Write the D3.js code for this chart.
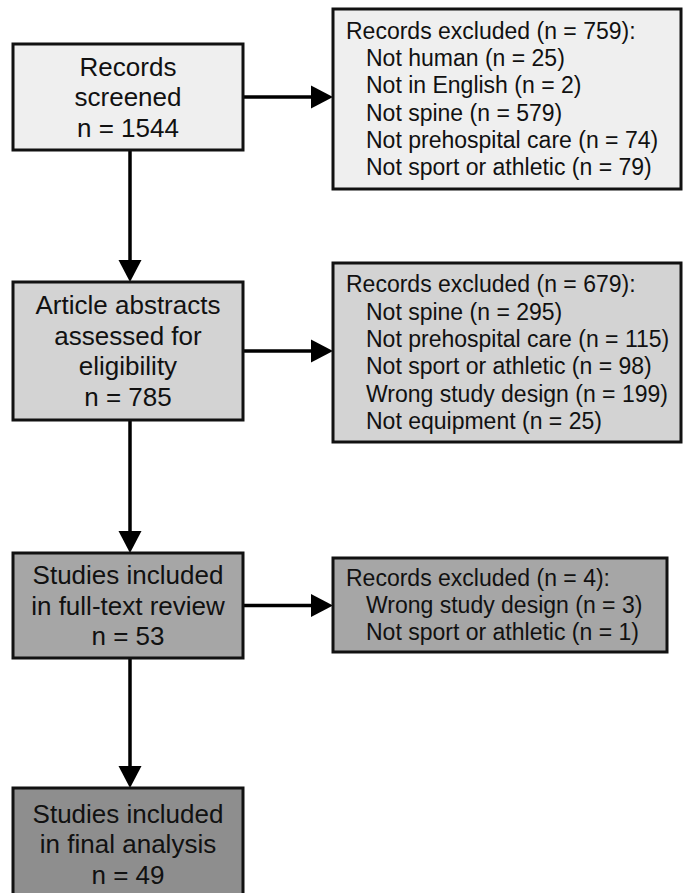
<!DOCTYPE html>
<html>
<head>
<meta charset="utf-8">
<script src="https://cdn.jsdelivr.net/npm/d3@7"></script>
<style>
  body { margin: 0; background: #fff; }
  text { font-family: "Liberation Sans", Arial, sans-serif; fill: #111; }
</style>
</head>
<body>
<div id="chart"></div>
<script>
// flow stages (left column)
var stageLabels = [
  ["Records", "screened"],
  ["Article abstracts", "assessed for", "eligibility"],
  ["Studies included", "in full-text review"],
  ["Studies included", "in final analysis"]
];
var stageCounts = [1544, 785, 53, 49];

// exclusions (right column)
var excludedTotals = [759, 679, 4];
var excludedReasons = [
  ["Not human", "Not in English", "Not spine", "Not prehospital care", "Not sport or athletic"],
  ["Not spine", "Not prehospital care", "Not sport or athletic", "Wrong study design", "Not equipment"],
  ["Wrong study design", "Not sport or athletic"]
];
var excludedCounts = [
  [25, 2, 579, 74, 79],
  [295, 115, 98, 199, 25],
  [3, 1]
];

var svgWidth = 684;
var svgHeight = 893;

// layout of the boxes
var leftBoxes = [
  { x: 13, y: 44, w: 230, h: 106 },
  { x: 13, y: 282, w: 230, h: 138 },
  { x: 13, y: 553, w: 230, h: 105 },
  { x: 13, y: 788, w: 230, h: 114 }
];
var rightBoxes = [
  { x: 333, y: 9, w: 348, h: 180 },
  { x: 333, y: 263, w: 348, h: 179 },
  { x: 333, y: 558, w: 334, h: 94 }
];
var stageFill = ["#efefef", "#d3d3d3", "#a6a6a6", "#8e8e8e"];

var svg = d3.select("#chart")
  .append("svg")
  .attr("width", svgWidth)
  .attr("height", svgHeight);

var headW = 23, headL = 22;

function arrowHead(tipX, tipY, dir) {
  // dir: "down" or "right"
  if (dir === "down") {
    return [[tipX - headW / 2, tipY - headL], [tipX + headW / 2, tipY - headL], [tipX, tipY]];
  }
  return [[tipX - headL, tipY - headW / 2], [tipX - headL, tipY + headW / 2], [tipX, tipY]];
}

var arrows = svg.append("g");

// vertical arrows between stages
leftBoxes.slice(1).forEach(function (b, i) {
  var from = leftBoxes[i];
  var cx = from.x + from.w / 2 + 2;
  arrows.append("line")
    .attr("x1", cx).attr("y1", from.y + from.h)
    .attr("x2", cx).attr("y2", b.y - headL + 2)
    .attr("stroke", "#000").attr("stroke-width", 3.5);
  arrows.append("polygon")
    .attr("points", arrowHead(cx, b.y, "down").join(" "))
    .attr("fill", "#000");
});

// horizontal arrows to exclusions
rightBoxes.forEach(function (b, i) {
  var from = leftBoxes[i];
  var cy = from.y + from.h / 2;
  arrows.append("line")
    .attr("x1", from.x + from.w).attr("y1", cy)
    .attr("x2", b.x - headL + 2).attr("y2", cy)
    .attr("stroke", "#000").attr("stroke-width", 3.5);
  arrows.append("polygon")
    .attr("points", arrowHead(b.x, cy, "right").join(" "))
    .attr("fill", "#000");
});

// left boxes
var stageGroup = svg.selectAll(".stage")
  .data(stageLabels)
  .enter()
  .append("g")
  .attr("class", "stage");

stageGroup.append("rect")
  .attr("x", (d, i) => leftBoxes[i].x)
  .attr("y", (d, i) => leftBoxes[i].y)
  .attr("width", (d, i) => leftBoxes[i].w)
  .attr("height", (d, i) => leftBoxes[i].h)
  .attr("fill", (d, i) => stageFill[i])
  .attr("stroke", "#111")
  .attr("stroke-width", 3);

var leftLine = 30.5;
stageGroup.each(function (d, i) {
  var b = leftBoxes[i];
  var lines = d.concat(["n = " + stageCounts[i]]);
  var cy = i === 3 ? 844 : b.y + b.h / 2;
  var top = cy - (lines.length - 1) * leftLine / 2;
  d3.select(this).selectAll("text")
    .data(lines)
    .enter()
    .append("text")
    .attr("x", b.x + b.w / 2)
    .attr("y", (t, j) => top + j * leftLine)
    .attr("dy", "0.35em")
    .attr("text-anchor", "middle")
    .attr("font-size", 26)
    .text(t => t);
});

// right boxes
var exclGroup = svg.selectAll(".excl")
  .data(excludedTotals)
  .enter()
  .append("g")
  .attr("class", "excl");

exclGroup.append("rect")
  .attr("x", (d, i) => rightBoxes[i].x)
  .attr("y", (d, i) => rightBoxes[i].y)
  .attr("width", (d, i) => rightBoxes[i].w)
  .attr("height", (d, i) => rightBoxes[i].h)
  .attr("fill", (d, i) => stageFill[i])
  .attr("stroke", "#111")
  .attr("stroke-width", 3);

var rightLine = 27.3;
exclGroup.each(function (d, i) {
  var b = rightBoxes[i];
  var lines = [{ t: "Records excluded (n = " + d + "):", indent: 0 }];
  excludedReasons[i].forEach(function (r, j) {
    lines.push({ t: r + " (n = " + excludedCounts[i][j] + ")", indent: 20 });
  });
  var cy = b.y + b.h / 2;
  var top = cy - (lines.length - 1) * rightLine / 2;
  d3.select(this).selectAll("text")
    .data(lines)
    .enter()
    .append("text")
    .attr("x", l => b.x + 13 + l.indent)
    .attr("y", (l, j) => top + j * rightLine)
    .attr("dy", "0.35em")
    .attr("font-size", 23)
    .text(l => l.t);
});
</script>
</body>
</html>
